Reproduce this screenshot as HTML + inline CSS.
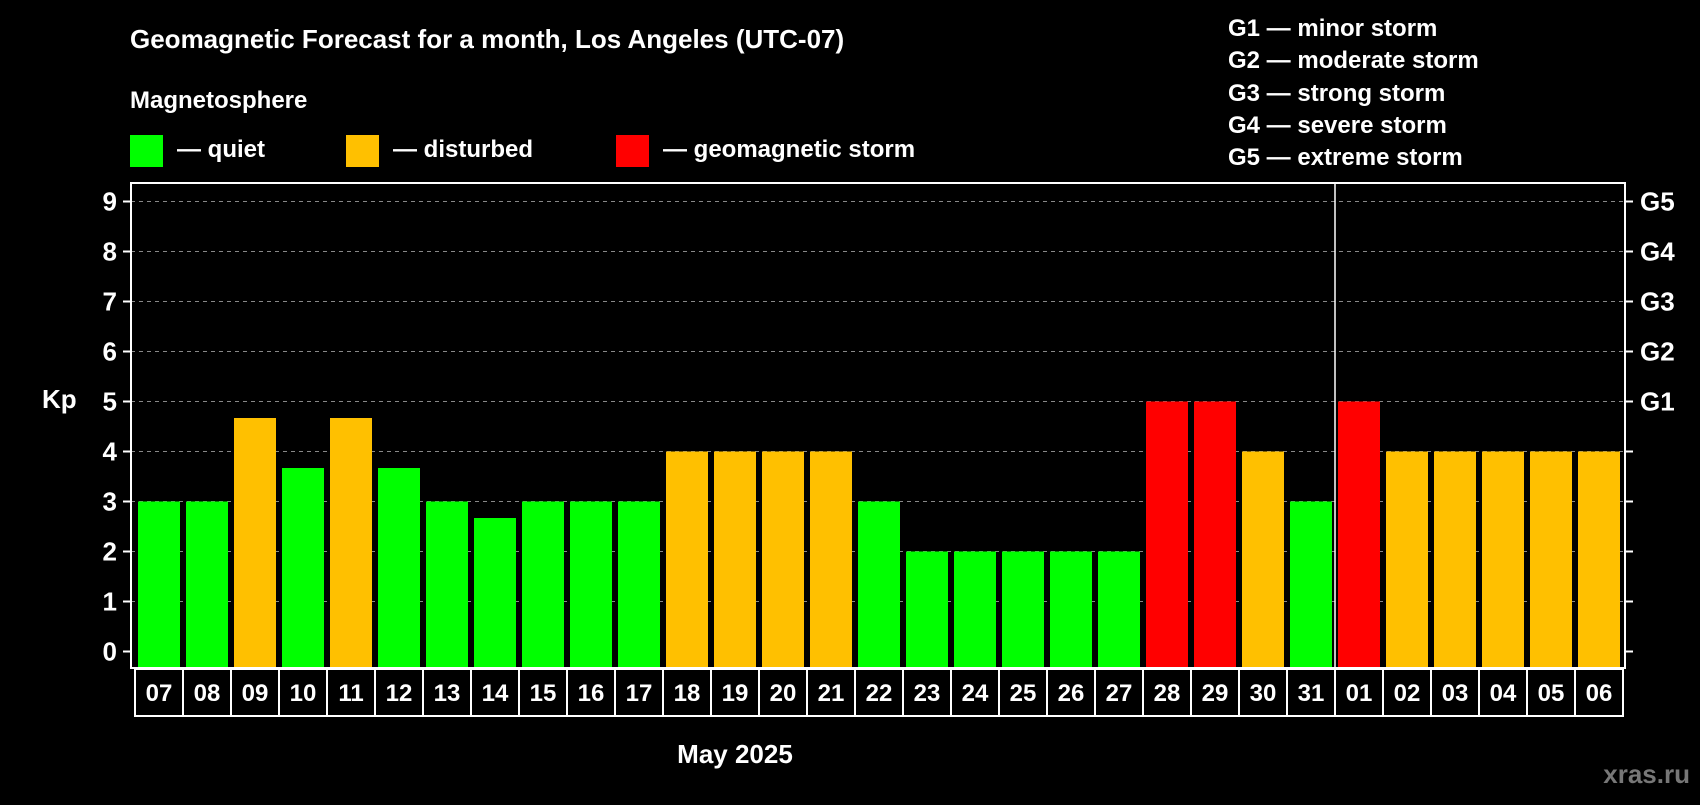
<!DOCTYPE html>
<html><head><meta charset="utf-8"><style>
body{margin:0;background:#000;width:1700px;height:800px;overflow:hidden}
svg text{font-family:"Liberation Sans",sans-serif;font-weight:bold;fill:#fff}
</style></head><body>
<svg id="c" width="1700" height="800">
<text x="130" y="48" font-size="26">Geomagnetic Forecast for a month, Los Angeles (UTC-07)</text>
<text x="130" y="108" font-size="24">Magnetosphere</text>
<rect x="130" y="135" width="33" height="32" fill="#00ff00"/>
<text x="177" y="157" font-size="24">— quiet</text>
<rect x="346" y="135" width="33" height="32" fill="#ffc000"/>
<text x="393" y="157" font-size="24">— disturbed</text>
<rect x="616" y="135" width="33" height="32" fill="#ff0000"/>
<text x="663" y="157" font-size="24">— geomagnetic storm</text>
<g font-size="24">
<text x="1228" y="36">G1 — minor storm</text>
<text x="1228" y="68">G2 — moderate storm</text>
<text x="1228" y="101">G3 — strong storm</text>
<text x="1228" y="133">G4 — severe storm</text>
<text x="1228" y="165">G5 — extreme storm</text>
</g>
<text x="42" y="408" font-size="26">Kp</text>
<text x="735" y="763" font-size="26" text-anchor="middle">May 2025</text>
<text x="1690" y="783" font-size="26" text-anchor="end" style="fill:#777">xras.ru</text>
<g id="plot"></g>
</svg>
<script>
const days=["07","08","09","10","11","12","13","14","15","16","17","18","19","20","21","22","23","24","25","26","27","28","29","30","31","01","02","03","04","05","06"];
const kp=[3,3,4.67,3.67,4.67,3.67,3,2.67,3,3,3,4,4,4,4,3,2,2,2,2,2,5,5,4,3,5,4,4,4,4,4];
const yTicks=[0,1,2,3,4,5,6,7,8,9];
const gLabels=["","","","","","G1","G2","G3","G4","G5"];
const NS="http://www.w3.org/2000/svg";
const g=document.getElementById('plot');
const L=131,R=1625,T=183,B=668,pitch=48,bw=42,x0=138;
const y=v=>651.5-v*50;
const x=i=>x0+i*pitch;
function mk(t,a){const e=document.createElementNS(NS,t);for(const k in a)e.setAttribute(k,a[k]);g.appendChild(e);return e;}
yTicks.forEach((v,i)=>{
 if(v>0){const gl=mk('line',{x1:L,x2:R,y1:y(v),y2:y(v),stroke:'#888','stroke-dasharray':'4,4','stroke-width':1});
 
 }
 mk('line',{x1:L-8,x2:L,y1:y(v),y2:y(v),stroke:'#fff','stroke-width':2});
 mk('line',{x1:R,x2:R+8,y1:y(v),y2:y(v),stroke:'#fff','stroke-width':2});
 const t=mk('text',{x:L-14,y:y(v)+9,'font-size':26,'text-anchor':'end'});t.textContent=v;
 
 
 if(gLabels[i]){const t2=mk('text',{x:R+15,y:y(v)+9,'font-size':26});t2.textContent=gLabels[i];
 
 }
});
kp.forEach((v,i)=>{
 const c=v>=5?'#ff0000':v>=4?'#ffc000':'#00ff00';
 const b=mk('rect',{x:x(i),y:y(v),width:bw,height:B-y(v),fill:c});
 
 
 const cell=mk('rect',{x:x(i)-3,y:B+1,width:pitch,height:47,fill:'#000',stroke:'#fff','stroke-width':2});
 
 
 const t=mk('text',{x:x(i)+bw/2,y:B+33,'font-size':24,'text-anchor':'middle'});t.textContent=days[i];
 
 
});
const sepIdx=days.indexOf("01");
mk('line',{x1:x(sepIdx)-3,x2:x(sepIdx)-3,y1:T,y2:B,stroke:'#fff','stroke-width':1.5});
const fr=mk('rect',{x:L,y:T,width:R-L,height:B-T,fill:'none',stroke:'#fff','stroke-width':2});


</script>
</body></html>
